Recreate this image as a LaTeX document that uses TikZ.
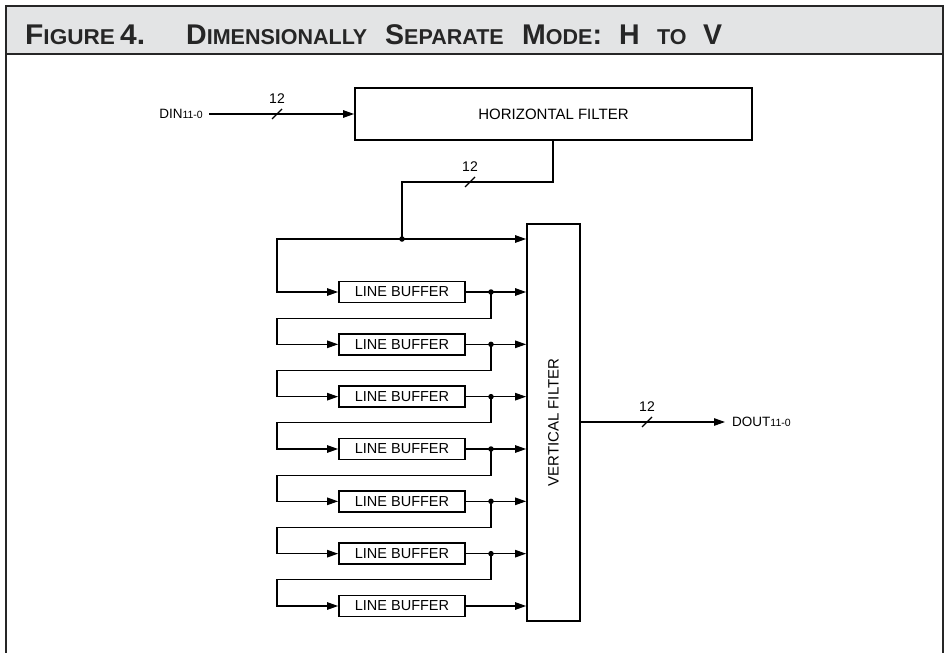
\documentclass[tikz,border=0pt]{standalone}
\usepackage{fontspec}
\setmainfont{Liberation Sans}
\usetikzlibrary{arrows.meta}
\definecolor{barfill}{HTML}{E3E4E5}
\definecolor{framec}{HTML}{262626}
\newcommand\tbig[1]{{\fontsize{28.5}{30}\selectfont #1}}
\newcommand\tsml[1]{{\fontsize{21.5}{24}\selectfont #1}}
\begin{document}
\begin{tikzpicture}[x=1pt,y=-1pt,
  boxstyle/.style={draw, line width=1.8pt, minimum height=21pt, minimum width=126pt, inner sep=0pt,
     font=\fontsize{14.5}{16}\selectfont},
  wire/.style={line width=1.15pt},
  arr/.style={wire, -{Triangle[length=11pt,width=7.5pt]}},
  junc/.style={circle, fill, inner sep=0pt, minimum size=5.5pt},
  lbl/.style={font=\fontsize{13.5}{15}\selectfont, inner sep=0pt},
  num/.style={font=\fontsize{14}{15}\selectfont, inner sep=0pt},
  titletxt/.style={font=\bfseries\fontsize{28.5}{30}\selectfont, text=framec, inner sep=0pt, anchor=base west}
]
\useasboundingbox (0,0) rectangle (946,653);
% frame and title bar
\fill[barfill] (6,6) rectangle (943,54);
\draw[framec, line width=2.8pt] (6,653) -- (6,6) -- (943,6) -- (943,653);
\draw[framec, line width=2.8pt] (6,54) -- (943,54);
\node[titletxt] (t1) at (25,45) {\scalebox{1.05}[1]{\tbig{F}\tsml{IGURE}}};
\node[titletxt] (t1b) at (120,45) {\scalebox{1.05}[1]{\tbig{4.}}};
\node[titletxt] (t2) at (186,45) {\tbig{D}\tsml{IMENSIONALLY}};
\node[titletxt] (t3) at (385,45) {\tbig{S}\tsml{EPARATE}};
\node[titletxt] (t4) at (522,45) {\tbig{M}\tsml{ODE}\tbig{:}};
\node[titletxt] (t5) at (619,45) {\tbig{H}};
\node[titletxt] (t6) at (657,45) {\tsml{TO}};
\node[titletxt] (t7) at (703,45) {\tbig{V}};

% main blocks
\node[boxstyle, minimum width=397pt, minimum height=52pt, font=\fontsize{15}{17}\selectfont] (hf) at (553.5,114) {HORIZONTAL FILTER};
\node[boxstyle, minimum width=53pt, minimum height=397pt] (vf) at (553.5,422.5) {};
\node[font=\fontsize{15}{17}\selectfont, rotate=90, inner sep=0pt] (vft) at (vf.center) {VERTICAL FILTER};

% line buffers
\foreach \i/\yy in {1/292,2/344.33,3/396.67,4/449,5/501.33,6/553.67,7/606}{
  \node[boxstyle] (lb\i) at (402,\yy) {LINE BUFFER};
}

% input
\coordinate (din) at (209,114);
\node[lbl, anchor=east] (dinl) at ([xshift=-6pt]din) {DIN{\fontsize{10.5}{12}\selectfont 11-0}};
\draw[arr] (din) -- (hf.west);
\coordinate (s1) at (277,114);
\draw[wire] (s1) +(-5,5) -- +(5,-5);
\node[num] (n1) at (277,99) {12};

% horizontal filter to vertical filter chain
\coordinate (hfo) at (553,140);
\coordinate (hfa) at (553,182);
\coordinate (hfb) at (402,182);
\node[junc] (j0) at (402,239) {};
\draw[wire] (hfo) -- (hfa) -- (hfb) -- (j0.center);
\coordinate (s2) at (470,182);
\draw[wire] (s2) +(-5,5) -- +(5,-5);
\node[num] (n2) at (470,167) {12};
\coordinate (l0) at (277,239);
\draw[arr] (j0.center) -- (vf.west |- j0);
\draw[arr] (j0.center) -- (l0) -- (l0 |- lb1.west) -- (lb1.west);

\foreach \i/\yy/\nx in {1/292/2,2/344.33/3,3/396.67/4,4/449/5,5/501.33/6,6/553.67/7}{
  \node[junc] (j\i) at (491,\yy) {};
  \draw[arr] (lb\i.east) -- (j\i.center) -- (vf.west |- j\i);
  \coordinate (r\i) at (491,\yy+26.17);
  \coordinate (q\i) at (277,\yy+26.17);
  \draw[arr] (j\i.center) -- (r\i) -- (q\i) -- (q\i |- lb\nx.west) -- (lb\nx.west);
}
\draw[arr] (lb7.east) -- (vf.west |- lb7.east);

% output
\coordinate (dout) at (725,422);
\draw[arr] (vf.east |- dout) -- (dout);
\node[lbl, anchor=west] (doutl) at ([xshift=7pt]dout) {DOUT{\fontsize{10.5}{12}\selectfont 11-0}};
\coordinate (s3) at (647,422);
\draw[wire] (s3) +(-5,5) -- +(5,-5);
\node[num] (n3) at (647,407) {12};
\end{tikzpicture}
\end{document}
